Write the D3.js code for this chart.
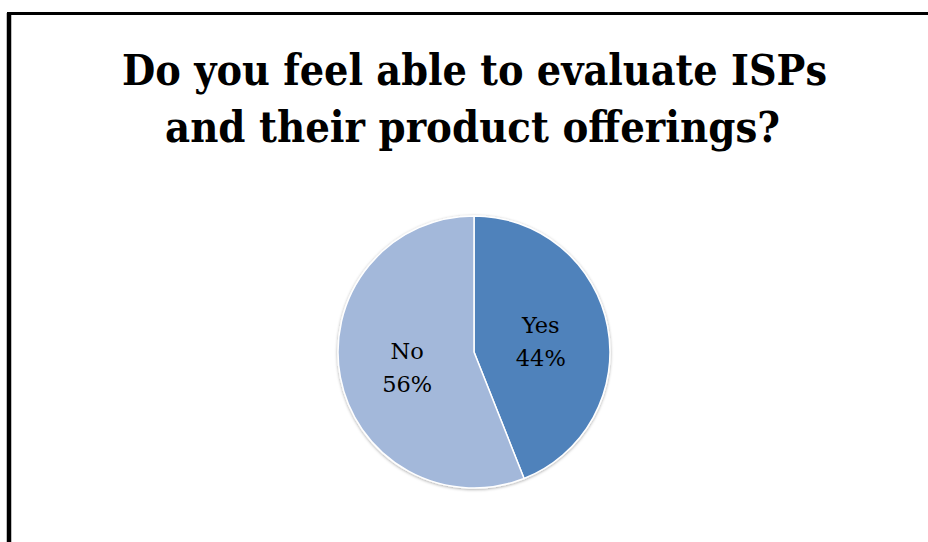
<!DOCTYPE html>
<html>
<head>
<meta charset="utf-8">
<script src="https://cdn.jsdelivr.net/npm/d3@7"></script>
<style>
  html, body { margin: 0; padding: 0; background: #ffffff; }
  svg { display: block; }
</style>
</head>
<body>
<svg id="chart" width="928" height="542"></svg>
<script>
// Survey answers and their shares (percent)
const categories = ["Yes", "No"];
const values = [44, 56];
const titleLines = ["Do you feel able to evaluate ISPs", "and their product offerings?"];

const W = 928, H = 542;
const svg = d3.select("#chart");

// Frame: only the left and top edges fall inside the view
svg.append("line")
  .attr("x1", 9).attr("y1", 13).attr("x2", 9).attr("y2", H)
  .attr("stroke", "#000").attr("stroke-width", 4.5);
svg.append("line")
  .attr("x1", 7).attr("y1", 13.5).attr("x2", W).attr("y2", 13.5)
  .attr("stroke", "#000").attr("stroke-width", 3);

// Title
const titleFont = "'DejaVu Serif Condensed', 'DejaVu Serif', serif";
const titleSpecs = [
  { y: 85, width: 705, cx: 474.5 },
  { y: 142, width: 615, cx: 472.5 }
];
titleLines.forEach((t, i) => {
  svg.append("text")
    .attr("x", titleSpecs[i].cx)
    .attr("y", titleSpecs[i].y)
    .attr("text-anchor", "middle")
    .attr("font-family", titleFont)
    .attr("font-weight", "bold")
    .attr("font-size", 42.5)
    .attr("textLength", titleSpecs[i].width)
    .attr("lengthAdjust", "spacingAndGlyphs")
    .attr("fill", "#000")
    .text(t);
});

// Pie
const cx = 474, cy = 352, R = 136;
const color = d3.scaleOrdinal().domain(categories).range(["#5082BB", "#A3B8DA"]);

const defs = svg.append("defs");
const f = defs.append("filter").attr("id", "pieShadow")
  .attr("x", "-10%").attr("y", "-10%").attr("width", "120%").attr("height", "120%");
f.append("feDropShadow")
  .attr("dx", 0).attr("dy", 0.8).attr("stdDeviation", 1.4)
  .attr("flood-color", "#000").attr("flood-opacity", 0.35);

const pie = d3.pie().sort(null).value(d => d.value);
const arcs = pie(categories.map((c, i) => ({ category: c, value: values[i] })));
const arc = d3.arc().innerRadius(0).outerRadius(R);

const g = svg.append("g").attr("transform", `translate(${cx},${cy})`);
g.append("g").attr("filter", "url(#pieShadow)")
  .selectAll("path")
  .data(arcs)
  .join("path")
  .attr("d", arc)
  .attr("fill", d => color(d.data.category))
  .attr("stroke", "#ffffff")
  .attr("stroke-width", 1.5)
  .attr("stroke-linejoin", "round");

// Data labels: category and percentage at each slice's centroid
const labelFont = "'DejaVu Serif', serif";
const lineGap = 33;
arcs.forEach(d => {
  const [lx, ly] = arc.centroid(d);
  const t = g.append("text")
    .attr("text-anchor", "middle")
    .attr("font-family", labelFont)
    .attr("font-size", 22.5)
    .attr("fill", "#000");
  t.append("tspan").attr("x", lx).attr("y", ly - lineGap / 2 + 10.5).text(d.data.category);
  t.append("tspan").attr("x", lx).attr("y", ly + lineGap / 2 + 10.5).text(d.data.value + "%");
});
</script>
</body>
</html>
